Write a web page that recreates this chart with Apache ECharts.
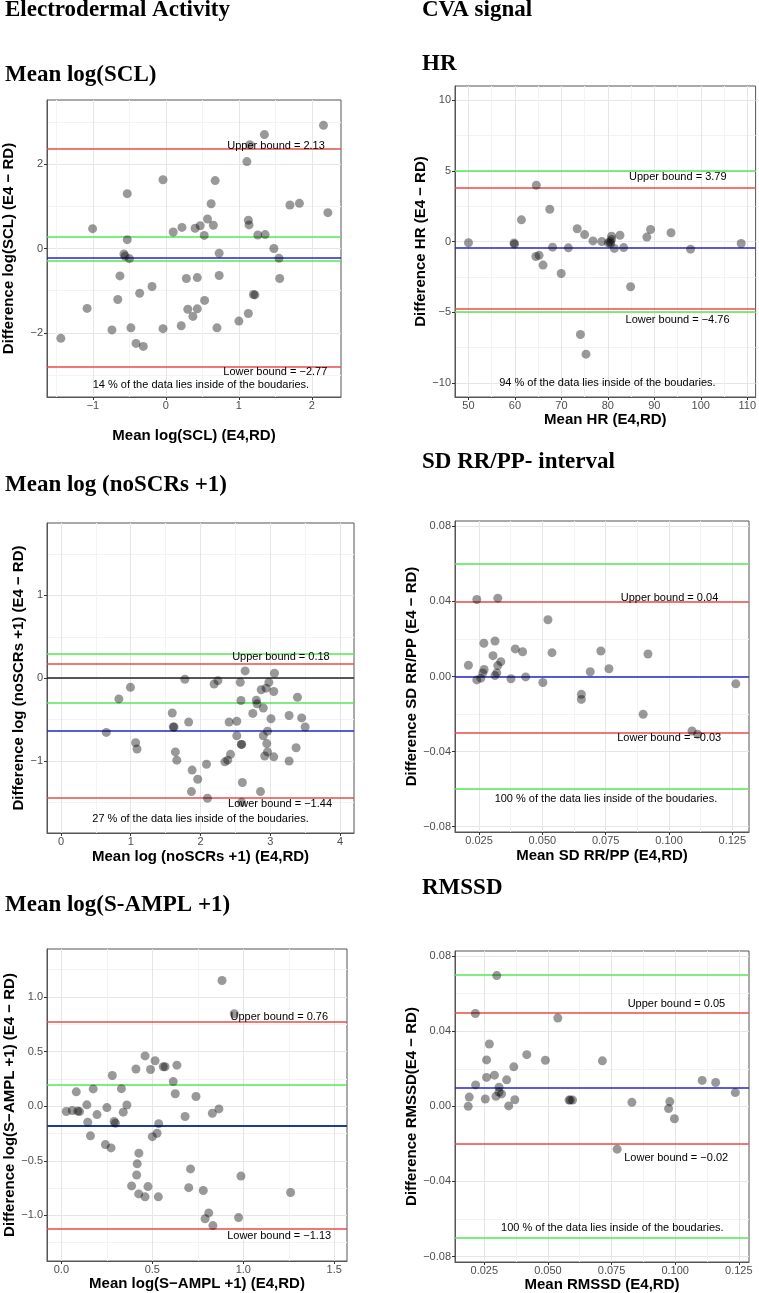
<!DOCTYPE html>
<html><head><meta charset="utf-8">
<script src="https://cdn.jsdelivr.net/npm/echarts@6/dist/echarts.min.js"></script>
<style>html,body{margin:0;padding:0;background:#fff}#c{width:759px;height:1293px}</style>
</head><body><div id="c"></div>
<script>
// ---------- Data ----------
const sclX = [2.16,1.35,1.15,1.11,-0.04,0.675,-0.53,0.62,1.70,1.83,2.22,0.57,1.13,1.14,0.65,0.47,0.40,0.22,0.10,-1.005,0.525,1.26,1.36,-0.53,1.48,-0.575,-0.56,-0.50,0.73,1.55,-0.63,0.28,0.43,0.73,1.56,-0.19,-0.36,-0.66,0.53,1.20,1.22,-1.08,0.30,0.43,0.37,1.13,1.00,0.21,0.70,-0.04,-0.48,-0.74,-1.44,-0.41,-0.31];
const sclY = [2.92,2.70,2.46,2.06,1.63,1.61,1.30,1.06,1.03,1.07,0.85,0.70,0.67,0.56,0.55,0.54,0.48,0.50,0.39,0.47,0.31,0.32,0.33,0.21,0.00,-0.13,-0.18,-0.24,-0.11,-0.23,-0.65,-0.71,-0.69,-0.64,-0.71,-0.90,-1.06,-1.21,-1.23,-1.09,-1.10,-1.42,-1.44,-1.43,-1.61,-1.54,-1.72,-1.83,-1.88,-1.90,-1.88,-1.93,-2.13,-2.25,-2.32];
const sclRed = [2.36,-2.80], sclGreen = [0.29,-0.28], sclBlue = [-0.22];

const hrX = [50.0,59.8,59.9,61.4,64.6,64.5,65.2,66.05,67.5,68.1,69.96,71.5,73.4,75.0,76.8,78.7,80.1,80.5,80.8,80.8,80.6,81.4,82.6,83.4,84.9,74.1,75.3,88.4,89.2,93.6,97.8,108.7];
const hrY = [-0.09,-0.1,-0.19,1.53,3.98,-1.06,-0.98,-1.67,2.28,-0.40,-2.26,-0.45,0.9,0.49,0.04,0.0,-0.1,0.0,0.38,0.14,-0.14,-0.49,0.44,-0.43,-3.2,-6.58,-7.97,0.31,0.85,0.62,-0.54,-0.14];
const hrGreen = [5,-5], hrRed = [3.81,-4.73], hrBlue = [-0.47];

const scrX = [0.65,0.83,0.996,1.07,1.09,1.595,1.62,1.61,1.64,1.66,1.776,1.83,1.88,1.87,1.96,2.086,2.10,2.195,2.25,2.35,2.39,2.43,2.41,2.52,2.52,2.57,2.58,2.64,2.59,2.585,2.60,2.59,2.75,2.80,2.81,2.87,2.90,2.86,2.90,2.92,2.94,2.95,2.96,2.96,2.98,3.01,3.05,3.05,3.06,3.27,3.27,3.39,3.37,3.45,3.50];
const scrY = [-0.655,-0.25,-0.11,-0.78,-0.855,-0.42,-0.59,-0.59,-0.89,-0.99,-0.012,-0.53,-1.11,-1.37,-1.22,-1.04,-1.45,-0.07,-0.03,-1.01,-0.99,-0.92,-0.53,-0.52,-0.695,-0.05,-0.27,0.088,-0.80,-0.80,-1.26,-1.50,-0.425,-0.265,-0.31,-0.14,-0.36,-1.37,-0.695,-0.94,-0.12,-0.79,-0.64,-0.89,-0.05,-0.49,-0.95,-0.16,0.06,-0.45,-1.0,-0.23,-0.84,-0.48,-0.59];
const scrGreen = [0.305,-0.30], scrRed = [0.184,-1.446], scrBlue = [-0.627], scrZero = [0];

const sdX = [0.0208,0.0241,0.0241,0.0257,0.0265,0.027,0.0269,0.0305,0.0313,0.0313,0.032,0.0324,0.0324,0.0336,0.0376,0.0393,0.0422,0.0434,0.0502,0.0522,0.0538,0.0654,0.0654,0.0689,0.0731,0.0763,0.0898,0.0917,0.1091,0.1113,0.1264];
const sdY = [0.0060,0.0410,-0.0018,-0.0009,0.0019,0.0037,0.0177,0.0111,0.0189,0.0005,0.0019,0.0058,0.0417,0.0079,-0.0012,0.0147,0.0132,-0.0002,-0.0032,0.0302,0.0127,-0.0095,-0.0122,0.0025,0.0136,0.0041,-0.0201,0.0120,-0.0290,-0.0307,-0.0039];
const sdGreen = [0.060,-0.060], sdRed = [0.036,-0.0267], sdBlue = [0.0046];

const amplX = [0.883,0.95,0.46,0.515,0.41,0.49,0.56,0.57,0.635,0.28,0.615,0.626,0.74,0.082,0.175,0.33,0.14,0.36,0.25,0.027,0.06,0.09,0.10,0.196,0.34,0.68,0.83,0.866,0.145,0.29,0.297,0.535,0.16,0.526,0.50,0.242,0.273,0.426,0.417,0.414,0.71,0.987,0.386,0.476,0.425,0.46,0.533,0.70,0.78,1.26,0.81,0.79,0.974,0.833];
const amplY = [1.150,0.845,0.46,0.415,0.34,0.335,0.36,0.36,0.375,0.28,0.225,0.113,0.088,0.131,0.158,0.16,0.012,0.01,-0.013,-0.049,-0.04,-0.045,-0.05,-0.077,-0.055,-0.095,-0.065,-0.025,-0.147,-0.14,-0.156,-0.16,-0.272,-0.248,-0.279,-0.352,-0.382,-0.43,-0.528,-0.63,-0.574,-0.64,-0.73,-0.736,-0.803,-0.83,-0.83,-0.746,-0.772,-0.79,-0.977,-1.03,-1.02,-1.093];
const amplRed = [0.766,-1.124], amplGreen = [0.195], amplBlue = [-0.18];

const rmX = [0.0187,0.0191,0.0215,0.0216,0.0254,0.0259,0.0259,0.027,0.029,0.0296,0.0299,0.0308,0.0308,0.0318,0.0338,0.0346,0.0366,0.037,0.0417,0.049,0.0539,0.0583,0.0588,0.0597,0.0714,0.0772,0.083,0.0974,0.0979,0.0997,0.1106,0.1159,0.1236];
const rmY = [0,0.0049,0.0494,0.0114,0.0039,0.0247,0.0154,0.0332,0.0166,0.0053,0.0696,0.0102,0.0076,0.0066,0.0141,0.0002,0.021,0.0035,0.0275,0.0245,0.047,0.0033,0.0033,0.0033,0.0242,-0.0228,0.0021,-0.0012,0.0025,-0.0066,0.0138,0.0127,0.0073];
const rmGreen = [0.070,-0.070], rmRed = [0.0485,-0.021], rmBlue = [0.0138];

// Tick values and labels
const sclXTicks = [-1,0,1,2], sclXLabels = ['\u22121','0','1','2'], sclXMinor = [-1.5,-0.5,0.5,1.5];
const sclYTicks = [-2,0,2], sclYLabels = ['\u22122','0','2'], sclYMinor = [-3,-1,1,3];
const hrXTicks = [50,60,70,80,90,100,110], hrXLabels = ['50','60','70','80','90','100','110'], hrXMinor = [55,65,75,85,95,105];
const hrYTicks = [-10,-5,0,5,10], hrYLabels = ['\u221210','\u22125','0','5','10'], hrYMinor = [-7.5,-2.5,2.5,7.5];
const scrXTicks = [0,1,2,3,4], scrXLabels = ['0','1','2','3','4'], scrXMinor = [0.5,1.5,2.5,3.5];
const scrYTicks = [-1,0,1], scrYLabels = ['\u22121','0','1'], scrYMinor = [-1.5,-0.5,0.5,1.5];
const hrvXTicks = [0.025,0.05,0.075,0.1,0.125], hrvXLabels = ['0.025','0.050','0.075','0.100','0.125'], hrvXMinor = [0.0375,0.0625,0.0875,0.1125];
const hrvYTicks = [-0.08,-0.04,0,0.04,0.08], hrvYLabels = ['\u22120.08','\u22120.04','0.00','0.04','0.08'], hrvYMinor = [-0.06,-0.02,0.02,0.06];
const amplXTicks = [0,0.5,1,1.5], amplXLabels = ['0.0','0.5','1.0','1.5'], amplXMinor = [0.25,0.75,1.25];
const amplYTicks = [-1,-0.5,0,0.5,1], amplYLabels = ['\u22121.0','\u22120.5','0.0','0.5','1.0'], amplYMinor = [-1.25,-0.75,-0.25,0.25,0.75,1.25];

// ---------- Styles ----------
const RED = '#ee4a4a', GREEN = '#55e855', BLUE = '#2525cc', BLACK = '#222';
const SANS = 'Liberation Sans', SERIF = 'Liberation Serif';

const panels = [
  {grid:{left:47,top:100,width:294,height:297},
   x:{min:-1.63,max:2.40,ticks:sclXTicks,labels:sclXLabels,minor:sclXMinor,name:'Mean log(SCL) (E4,RD)',gap:31},
   y:{min:-3.52,max:3.52,ticks:sclYTicks,labels:sclYLabels,minor:sclYMinor,name:'Difference log(SCL) (E4 \u2212 RD)',gap:31},
   xs:sclX, ys:sclY,
   lines:[[sclRed,RED],[sclGreen,GREEN],[sclBlue,BLUE]],
   notes:[['Upper bound = 2.13',1.51,2.44],['Lower bound = \u22122.77',1.50,-2.93],['14 % of the data lies inside of the boudaries.',0.48,-3.23]]},
  {grid:{left:455,top:86,width:303,height:311},
   x:{min:47.1,max:111.8,ticks:hrXTicks,labels:hrXLabels,minor:hrXMinor,name:'Mean HR (E4,RD)',gap:14},
   y:{min:-11,max:11,ticks:hrYTicks,labels:hrYLabels,minor:hrYMinor,name:'Difference HR (E4 \u2212 RD)',gap:21},
   xs:hrX, ys:hrY,
   lines:[[hrGreen,GREEN],[hrRed,RED],[hrBlue,BLUE]],
   notes:[['Upper bound = 3.79',95.05,4.57],['Lower bound = \u22124.76',95.0,-5.58],['94 % of the data lies inside of the boudaries.',79.9,-9.99]]},
  {grid:{left:47,top:523,width:307,height:310},
   x:{min:-0.2,max:4.2,ticks:scrXTicks,labels:scrXLabels,minor:scrXMinor,name:'Mean log (noSCRs +1) (E4,RD)',gap:16},
   y:{min:-1.87,max:1.875,ticks:scrYTicks,labels:scrYLabels,minor:scrYMinor,name:'Difference log (noSCRs +1) (E4 \u2212 RD)',gap:19},
   xs:scrX, ys:scrY,
   lines:[[scrGreen,GREEN],[scrRed,RED],[scrBlue,BLUE],[scrZero,BLACK]],
   notes:[['Upper bound = 0.18',3.153,0.253],['Lower bound = \u22121.44',3.14,-1.518],['27 % of the data lies inside of the boudaries.',2.0,-1.70]]},
  {grid:{left:455,top:521,width:294,height:311},
   x:{min:0.0155,max:0.1316,ticks:hrvXTicks,labels:hrvXLabels,minor:hrvXMinor,name:'Mean SD RR/PP (E4,RD)',gap:16},
   y:{min:-0.0828,max:0.0828,ticks:hrvYTicks,labels:hrvYLabels,minor:hrvYMinor,name:'Difference SD RR/PP (E4 \u2212 RD)',gap:30},
   xs:sdX, ys:sdY,
   lines:[[sdGreen,GREEN],[sdRed,RED],[sdBlue,BLUE]],
   notes:[['Upper bound = 0.04',0.1002,0.0417],['Lower bound = \u22120.03',0.1001,-0.0328],['100 % of the data lies inside of the boudaries.',0.0751,-0.0652]]},
  {grid:{left:47,top:949,width:300,height:312},
   x:{min:-0.079,max:1.57,ticks:amplXTicks,labels:amplXLabels,minor:amplXMinor,name:'Mean log(S\u2212AMPL +1) (E4,RD)',gap:14},
   y:{min:-1.417,max:1.438,ticks:amplYTicks,labels:amplYLabels,minor:amplYMinor,name:'Difference log(S\u2212AMPL +1) (E4 \u2212 RD)',gap:24},
   xs:amplX, ys:amplY,
   lines:[[amplRed,RED],[amplGreen,GREEN],[amplBlue,'#1c3c9c',2]],
   notes:[['Upper bound = 0.76',1.198,0.815],['Lower bound = \u22121.13',1.197,-1.187]]},
  {grid:{left:455,top:951,width:294,height:311},
   x:{min:0.0135,max:0.129,ticks:hrvXTicks,labels:hrvXLabels,minor:hrvXMinor,name:'Mean RMSSD (E4,RD)',gap:15},
   y:{min:-0.0829,max:0.0827,ticks:hrvYTicks,labels:hrvYLabels,minor:hrvYMinor,name:'Difference RMSSD(E4 \u2212 RD)',gap:30},
   xs:rmX, ys:rmY,
   lines:[[rmGreen,GREEN],[rmRed,RED],[rmBlue,BLUE]],
   notes:[['Upper bound = 0.05',0.1005,0.0544],['Lower bound = \u22120.02',0.1004,-0.0274],['100 % of the data lies inside of the boudaries.',0.0753,-0.065]]}
];

const headings = [
  ['Electrodermal Activity',5,10],['CVA signal',422,10],
  ['Mean log(SCL)',5,75],['HR',422,64],
  ['Mean log (noSCRs +1)',5,485],['SD RR/PP- interval',422,462],
  ['Mean log(S-AMPL +1)',5,905],['RMSSD',422,888]
];

// ---------- Build ----------
function fmt(ticks, labels){
  return v => { for (let i=0;i<ticks.length;i++){ if (Math.abs(ticks[i]-v) < 1e-9) return labels[i]; } return ''; };
}
function mainAxis(a, gi, isY){
  return {
    type:'value', gridIndex:gi, min:a.min, max:a.max, position:isY?'left':'bottom',
    axisLine:{show:true, onZero:false, lineStyle:{color:'#555', width:1}},
    axisTick:{show:true, length:3, customValues:a.ticks, lineStyle:{color:'#333', width:1}},
    axisLabel:{customValues:a.ticks, formatter:fmt(a.ticks,a.labels), color:'#4d4d4d', fontSize:11, fontFamily:SANS, margin:isY?4:3},
    splitLine:{show:true, lineStyle:{color:'#e6e6e6', width:1}},
    name:a.name, nameLocation:'middle', nameGap:a.gap, nameRotate:isY?90:0,
    nameTextStyle:{fontWeight:'bold', fontSize:15, color:'#000', fontFamily:SANS}
  };
}
function minorAxis(a, gi, isY){
  return {
    type:'value', gridIndex:gi, min:a.min, max:a.max, position:isY?'right':'top',
    axisLine:{show:false}, axisLabel:{show:false},
    axisTick:{show:false, customValues:a.minor},
    splitLine:{show:true, lineStyle:{color:'#f3f3f3', width:1}}
  };
}

const grids=[], xAxes=[], yAxes=[], series=[];
panels.forEach((p, gi) => {
  grids.push(Object.assign({show:true, borderColor:'#555', borderWidth:1, backgroundColor:'transparent'}, p.grid));
  xAxes.push(mainAxis(p.x, gi, false)); xAxes.push(minorAxis(p.x, gi, false));
  yAxes.push(mainAxis(p.y, gi, true)); yAxes.push(minorAxis(p.y, gi, true));
  const xi = 2*gi, yi = 2*gi;
  const mlData = [];
  p.lines.forEach(([vals, col, w]) => vals.forEach(v => mlData.push({yAxis:v, lineStyle:{color:col, width:w||1.5, type:'solid'}})));
  series.push({
    type:'scatter', xAxisIndex:xi, yAxisIndex:yi, silent:true, z:2,
    symbolSize:9, itemStyle:{color:'rgba(0,0,0,0.5)'},
    data:p.xs.map((x,i)=>[x, p.ys[i]]),
    markLine:{silent:true, z:1, symbol:['none','none'], animation:false, label:{show:false}, data:mlData},
    markPoint:{silent:true, symbol:'circle', symbolSize:0, animation:false,
      label:{show:true, position:'inside', formatter:'{b}', color:'#000', fontSize:11, fontFamily:SANS},
      data:p.notes.map(([t,x,y])=>({name:t, coord:[x,y]}))}
  });
});

const graphic = headings.map(([t,x,y]) => ({
  type:'text', x:x, y:y, silent:true,
  style:{text:t, fill:'#000', fontSize:23, fontWeight:'bold', fontFamily:SERIF, verticalAlign:'middle', align:'left'}
}));

const chart = echarts.init(document.getElementById('c'), null, {renderer:'canvas'});
chart.setOption({animation:false, backgroundColor:'#fff', grid:grids, xAxis:xAxes, yAxis:yAxes, series:series, graphic:graphic});
</script></body></html>
